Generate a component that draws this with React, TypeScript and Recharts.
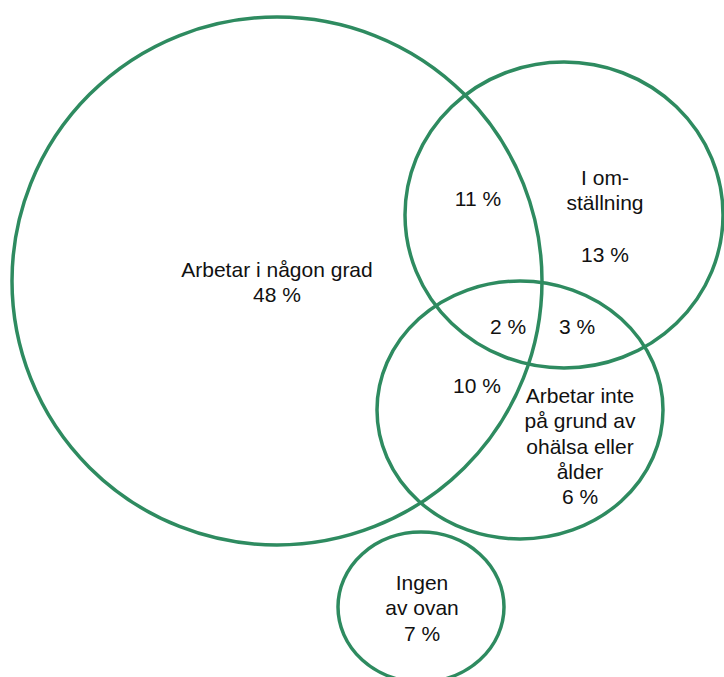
import React from "react";
import { ScatterChart, Scatter, XAxis, YAxis } from "recharts";

const W = 724;
const H = 677;

// circles of the Venn diagram, in picture units
const circleNames = ["Arbetar", "Omställning", "Ohälsa", "Ingen"];
const circleX = [277, 564, 520, 421];
const circleY = [281, 215, 410, 607];
const circleRx = [265, 159, 143, 83];
const circleRy = [264, 153, 129, 75];

// labels: lines and anchor (baseline of first line)
const labelLines = [
  ["Arbetar i någon grad", "48 %"],
  ["11 %"],
  ["I om-", "ställning"],
  ["13 %"],
  ["2 %"],
  ["3 %"],
  ["10 %"],
  ["Arbetar inte", "på grund av", "ohälsa eller", "ålder", "6 %"],
  ["Ingen", "av ovan", "7 %"],
];
const labelX = [277, 478, 605, 605, 508, 577, 477, 580, 422];
const labelY = [277, 206, 185, 262, 334, 334, 393, 403, 590];

const circles = circleNames.map((name, i) => ({
  name,
  x: circleX[i],
  y: circleY[i],
  rx: circleRx[i],
  ry: circleRy[i],
}));

const labels = labelLines.map((lines, i) => ({
  lines,
  x: labelX[i],
  y: labelY[i],
}));

const GREEN = "#2e8b60";

const CircleShape = (props: any) => {
  const { cx, cy, payload } = props;
  return (
    <ellipse
      cx={cx}
      cy={cy}
      rx={payload.rx}
      ry={payload.ry}
      fill="none"
      stroke={GREEN}
      strokeWidth={3.5}
    />
  );
};

const LabelShape = (props: any) => {
  const { cx, cy, payload } = props;
  return (
    <text
      x={cx}
      y={cy}
      textAnchor="middle"
      fontFamily="'Liberation Sans', Arial, sans-serif"
      fontSize={21}
      fill="#111"
    >
      {payload.lines.map((l: string, i: number) => (
        <tspan key={i} x={cx} dy={i === 0 ? 0 : 25.3}>
          {l}
        </tspan>
      ))}
    </text>
  );
};

export default function App() {
  return (
    <div style={{ position: "absolute", left: 0, top: 0, background: "#fff" }}>
      <ScatterChart width={W} height={H} margin={{ top: 0, right: 0, bottom: 0, left: 0 }}>
        <XAxis type="number" dataKey="x" domain={[0, W]} hide />
        <YAxis type="number" dataKey="y" domain={[0, H]} reversed hide />
        <Scatter data={circles} shape={<CircleShape />} isAnimationActive={false} />
        <Scatter data={labels} shape={<LabelShape />} isAnimationActive={false} />
      </ScatterChart>
    </div>
  );
}
